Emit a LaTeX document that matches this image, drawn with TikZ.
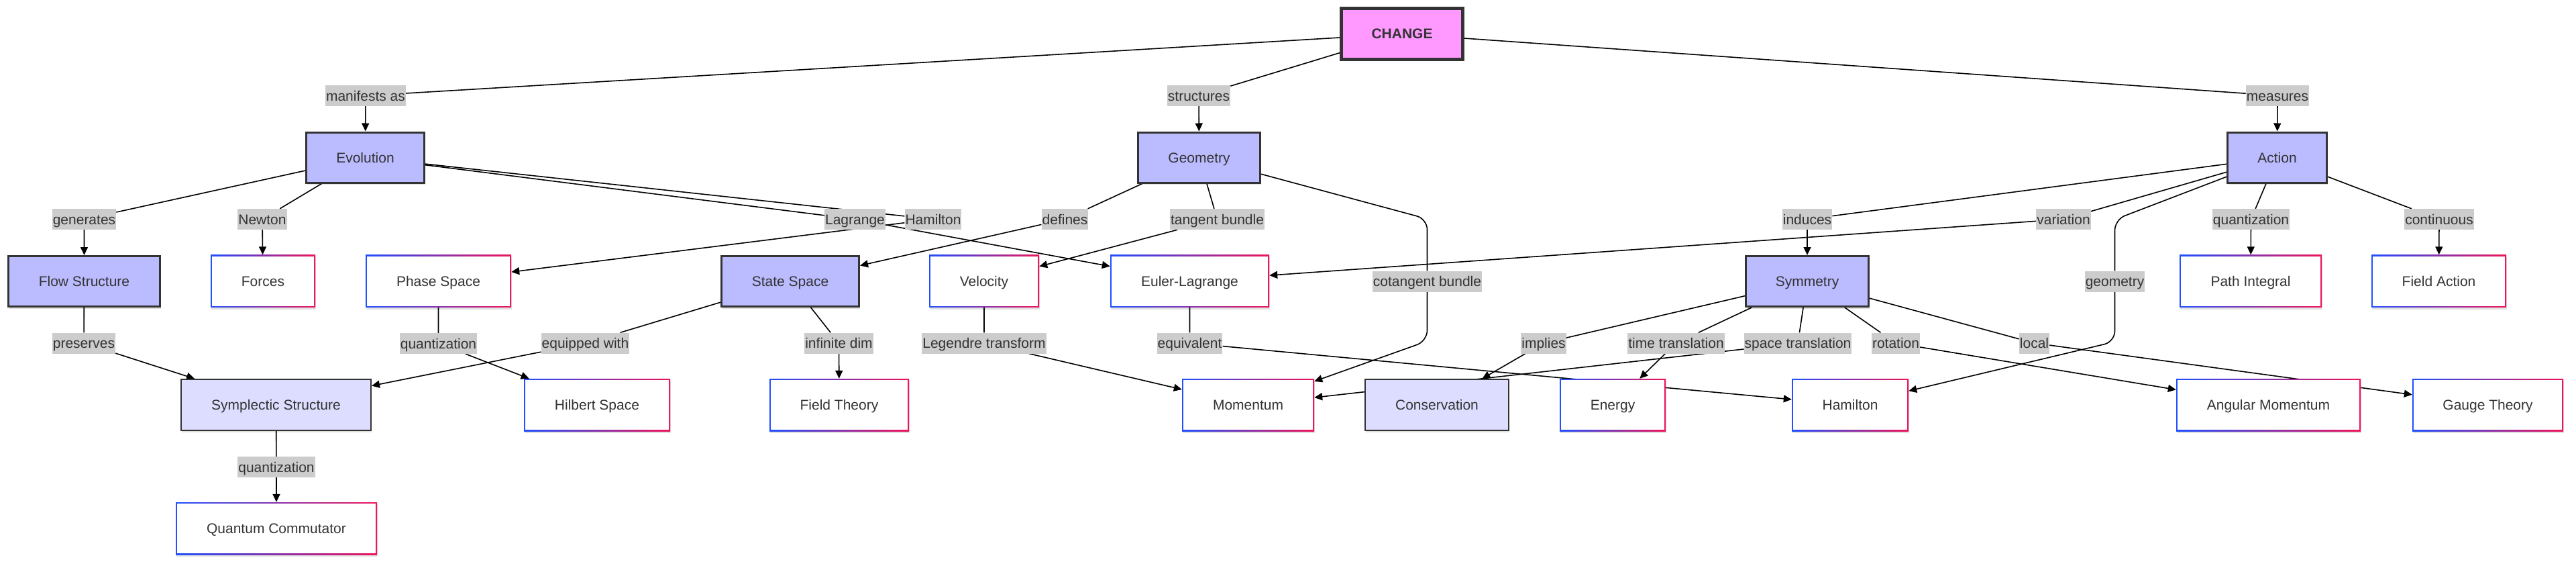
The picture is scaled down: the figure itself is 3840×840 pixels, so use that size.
\documentclass[tikz,border=0pt]{standalone}
\usepackage{fontspec}
\setmainfont{Liberation Sans}
\usetikzlibrary{arrows.meta,shadows,calc}
\definecolor{txt}{HTML}{333333}
\definecolor{bord}{HTML}{333333}
\definecolor{pinkf}{HTML}{FF99FF}
\definecolor{mainf}{HTML}{BBBBFF}
\definecolor{secf}{HTML}{DDDDFF}
\definecolor{lblf}{HTML}{CCCCCC}
\definecolor{lblue}{HTML}{1F4FFF}
\definecolor{lred}{HTML}{F0145A}
\pgfdeclarelayer{edges}
\pgfsetlayers{edges,main}
\tikzset{
  base/.style={rectangle, inner sep=0pt, text=txt, font=\fontsize{21pt}{25pt}\selectfont,
    text height=15pt, text depth=0pt,
    drop shadow={shadow xshift=1pt, shadow yshift=-3pt, opacity=0.12, fill=black}},
  topbox/.style={base, fill=pinkf, draw=bord, line width=5pt, minimum height=76pt,
    font=\fontsize{21pt}{25pt}\selectfont\bfseries},
  mainbox/.style={base, fill=mainf, draw=bord, line width=3pt, minimum height=75pt},
  secbox/.style={base, fill=secf, draw=bord, line width=2pt, minimum height=76pt},
  leafbox/.style={base, left color=lblue, right color=lred, minimum height=78pt,
    path picture={\fill[white] ([shift={(2pt,-2pt)}]path picture bounding box.north west) rectangle ([shift={(-2pt,2pt)}]path picture bounding box.south east);}},
  lbl/.style={rectangle, fill=lblf, text=txt, font=\fontsize{21pt}{25pt}\selectfont,
    text height=15pt, text depth=0pt,
    inner xsep=1pt, inner ysep=0pt, minimum height=31pt},
  edge/.style={draw=black, line width=1.6pt, -{Triangle[length=12pt,width=11pt]}},
}
\begin{document}
\begin{tikzpicture}[x=1pt,y=-1pt]
\useasboundingbox (0,0) rectangle (3840,840);
% main nodes
\node[topbox, minimum width=181pt] (change) at (2090,50.5) {CHANGE};
\node[mainbox, minimum width=176pt] (evo) at (544.5,234.5) {Evolution};
\node[mainbox, minimum width=182pt] (geo) at (1787.5,234.5) {Geometry};
\node[mainbox, minimum width=148pt] (act) at (3394.5,234.5) {Action};
\node[mainbox, minimum width=226pt] (flow) at (125.5,419) {Flow Structure};
\node[leafbox, minimum width=156pt] (forces) at (392,418.5) {Forces};
\node[leafbox, minimum width=217pt] (phase) at (653.5,418.5) {Phase Space};
\node[mainbox, minimum width=205pt] (state) at (1178,419) {State Space};
\node[leafbox, minimum width=164pt] (vel) at (1467,418.5) {Velocity};
\node[leafbox, minimum width=237pt] (euler) at (1773.5,418.5) {Euler-Lagrange};
\node[mainbox, minimum width=183pt] (sym) at (2694,419) {Symmetry};
\node[leafbox, minimum width=212pt] (path) at (3355,418.5) {Path Integral};
\node[leafbox, minimum width=201pt] (faction) at (3635.5,418.5) {Field Action};
\node[secbox, minimum width=283pt] (sympl) at (411.5,603) {Symplectic Structure};
\node[leafbox, minimum width=218pt] (hilbert) at (890,603) {Hilbert Space};
\node[leafbox, minimum width=208pt] (ftheory) at (1251,603) {Field Theory};
\node[leafbox, minimum width=197pt] (mom) at (1860.5,603) {Momentum};
\node[secbox, minimum width=214pt] (cons) at (2142,603) {Conservation};
\node[leafbox, minimum width=158pt] (energy) at (2404,603) {Energy};
\node[leafbox, minimum width=174pt] (ham) at (2758,603) {Hamilton};
\node[leafbox, minimum width=275pt] (angmom) at (3381.5,603) {Angular Momentum};
\node[leafbox, minimum width=225pt] (gauge) at (3708.5,603) {Gauge Theory};
\node[leafbox, minimum width=300pt] (qc) at (412,787) {Quantum Commutator};
% labels
\node[lbl] (lman) at (545,142.5) {manifests as};
\node[lbl] (lstr) at (1787,142.5) {structures};
\node[lbl] (lmea) at (3395,142.5) {measures};
\node[lbl] (lgen) at (125.5,326.5) {generates};
\node[lbl] (lnew) at (391,326.5) {Newton};
\node[lbl] (llag) at (1274.5,326.5) {Lagrange};
\node[lbl] (lham) at (1391,326.5) {Hamilton};
\node[lbl] (ldef) at (1587.5,326.5) {defines};
\node[lbl] (ltan) at (1814.5,326.5) {tangent bundle};
\node[lbl] (lind) at (2694,326.5) {induces};
\node[lbl] (lvar) at (3076,326.5) {variation};
\node[lbl] (lqa) at (3355.5,326.5) {quantization};
\node[lbl] (lcon) at (3636,326.5) {continuous};
\node[lbl] (lcot) at (2127.5,419) {cotangent bundle};
\node[lbl] (lgeo) at (3152.5,419) {geometry};
\node[lbl] (lpre) at (125,511) {preserves};
\node[lbl] (lqp) at (653.5,511.5) {quantization};
\node[lbl] (leq) at (872.5,511) {equipped with};
\node[lbl] (linf) at (1250.5,511) {infinite dim};
\node[lbl] (lleg) at (1467,511) {Legendre transform};
\node[lbl] (leqv) at (1773.5,511) {equivalent};
\node[lbl] (limp) at (2301,511) {implies};
\node[lbl] (ltime) at (2498.5,511) {time translation};
\node[lbl] (lspace) at (2680,511) {space translation};
\node[lbl] (lrot) at (2826,511) {rotation};
\node[lbl] (lloc) at (3032.5,511) {local};
\node[lbl] (lqs) at (412,695.5) {quantization};
% bend points
\coordinate (c1) at (2127.5,326);
\coordinate (c2) at (2127.5,508);
\coordinate (g1) at (3152.5,327);
\coordinate (g2) at (3152.5,509);
\begin{pgfonlayer}{edges}
\draw[edge] (change) -- (lman) -- (evo);
\draw[edge] (change) -- (lstr) -- (geo);
\draw[edge] (change) -- (lmea) -- (act);
\draw[edge] (evo) -- (lgen) -- (flow);
\draw[edge] (evo) -- (lnew) -- (forces);
\draw[edge] (evo) -- (lham) -- (phase);
\draw[edge] (evo) -- (llag) -- (euler);
\draw[edge] (geo) -- (ldef) -- (state);
\draw[edge] (geo) -- (ltan) -- (vel);
\draw[edge, rounded corners=16pt] (geo) -- (c1) -- (lcot) -- (c2) -- (mom);
\draw[edge] (act) -- (lind) -- (sym);
\draw[edge] (act) -- (lvar) -- (euler);
\draw[edge, rounded corners=16pt] (act) -- (g1) -- (lgeo) -- (g2) -- (ham);
\draw[edge] (act) -- (lqa) -- (path);
\draw[edge] (act) -- (lcon) -- (faction);
\draw[edge] (flow) -- (lpre) -- (sympl);
\draw[edge] (phase) -- (lqp) -- (hilbert);
\draw[edge] (state) -- (leq) -- (sympl);
\draw[edge] (state) -- (linf) -- (ftheory);
\draw[edge] (sympl) -- (lqs) -- (qc);
\draw[edge] (vel) -- (lleg) -- (mom);
\draw[edge] (euler) -- (leqv) -- (ham);
\draw[edge] (sym) -- (limp) -- (cons);
\draw[edge] (sym) -- (ltime) -- (energy);
\draw[edge] (sym) -- (lspace) -- (mom);
\draw[edge] (sym) -- (lrot) -- (angmom);
\draw[edge] (sym) -- (lloc) -- (gauge);
\end{pgfonlayer}
\end{tikzpicture}
\end{document}
